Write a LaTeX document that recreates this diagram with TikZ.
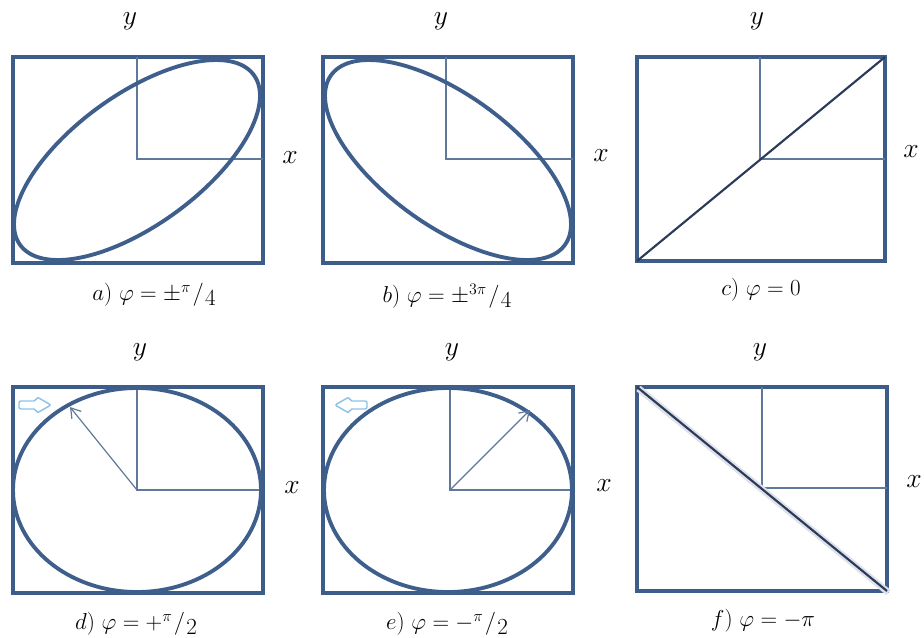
\documentclass[tikz,border=0pt]{standalone}
\usetikzlibrary{arrows.meta}
\definecolor{boxc}{RGB}{60,92,138}
\definecolor{ellc}{RGB}{62,94,140}
\definecolor{axc}{RGB}{95,120,155}
\definecolor{diagc}{RGB}{42,58,88}
\definecolor{glowc}{RGB}{222,224,234}
\definecolor{hintc}{RGB}{140,195,230}
\newcommand{\myfr}[2]{{}^{#1}\mkern1mu/\mkern1mu\raisebox{-3.5pt}{$#2$}}
\begin{document}
\begin{tikzpicture}[x=0.75pt,y=-0.75pt,
  frame/.style={draw=boxc,line width=3.6pt},
  ell/.style={draw=ellc,line width=2.9pt},
  axis/.style={draw=axc,line width=0.9pt},
  diag/.style={draw=diagc,line width=1.6pt},
  glow/.style={draw=glowc,line width=5pt},
  vec/.style={draw=axc,line width=0.9pt,-{Straight Barb[length=7pt,width=9pt]}},
  hint/.style={draw=hintc,line width=1.1pt,rounded corners=1.5pt},
  axlab/.style={font=\fontsize{20}{23}\selectfont},
  captxt/.style={font=\fontsize{16.5}{19}\selectfont}]
\useasboundingbox (0,0) rectangle (924,637);
% ---------- panel a
\coordinate (ca) at (137,159);
\draw[frame] (13,57) rectangle (263,263);
\draw[axis] (137,57) -- (ca) -- (263,159);
\draw[ell] plot[smooth cycle,domain=0:355,samples=72] ({137+123*cos(\x)},{160-100*cos(\x-50)});
\node[axlab] (ya) at (130,21) {$y$};
\node[axlab] (xa) at (290,158) {$x$};
\node[captxt] (la) at (154,295) {$a)\ \varphi=\pm\myfr{\pi}{4}$};
% ---------- panel b
\coordinate (cb) at (446,159);
\draw[frame] (323,57) rectangle (573,263);
\draw[axis] (446,57) -- (cb) -- (573,159);
\draw[ell] plot[smooth cycle,domain=0:355,samples=72] ({448+123*cos(\x)},{160+100*cos(\x-50)});
\node[axlab] (yb) at (441,21) {$y$};
\node[axlab] (xb) at (601,156) {$x$};
\node[captxt] (lb) at (447,296) {$b)\ \varphi=\pm\myfr{3\pi}{4}$};
% ---------- panel c
\coordinate (cc) at (760,159);
\coordinate (c1) at (637,261);
\coordinate (c2) at (885,57);
\draw[frame] (637,57) rectangle (885,261);
\draw[axis] (760,57) -- (cc) -- (885,159);
\draw[diag] (c1) -- (c2);
\node[axlab] (yc) at (757,21) {$y$};
\node[axlab] (xc) at (911,152) {$x$};
\node[captxt] (lc) at (761,290) {$c)\ \varphi=0$};
% ---------- panel d
\coordinate (cd) at (137,490);
\coordinate (td) at (70,407);
\draw[frame] (13,387) rectangle (263,593);
\draw[axis] (137,387) -- (cd) -- (263,490);
\draw[ell] (cd) ellipse [x radius=124,y radius=102];
\draw[vec] (cd) -- (td);
\draw[hint] (19,401) -- (36,401) -- (37,397) -- (51,405) -- (37,413) -- (36,409) -- (19,409) -- cycle;
\node[axlab] (yd) at (140,352) {$y$};
\node[axlab] (xd) at (292,488) {$x$};
\node[captxt] (ld) at (136,624) {$d)\ \varphi=+\myfr{\pi}{2}$};
% ---------- panel e
\coordinate (ce) at (450,490);
\coordinate (te) at (530,410);
\draw[frame] (323,387) rectangle (573,593);
\draw[axis] (450,387) -- (ce) -- (573,490);
\draw[ell] (448,490) ellipse [x radius=124,y radius=102];
\draw[vec] (ce) -- (te);
\draw[hint] (335,405) -- (349,397) -- (350,401) -- (367,401) -- (367,409) -- (350,409) -- (349,413) -- cycle;
\node[axlab] (ye) at (452,352) {$y$};
\node[axlab] (xe) at (604,486) {$x$};
\node[captxt] (le) at (447,624) {$e)\ \varphi=-\myfr{\pi}{2}$};
% ---------- panel f
\coordinate (cf) at (762,488);
\coordinate (f1) at (637,387);
\coordinate (f2) at (887,591);
\draw[frame] (637,387) rectangle (887,591);
\draw[axis] (762,387) -- (cf) -- (887,488);
\draw[glow] ([shift={(1.5,1.5)}]f1) -- ([shift={(1.5,1.5)}]f2);
\draw[diag] (f1) -- (f2);
\node[axlab] (yf) at (760,352) {$y$};
\node[axlab] (xf) at (914,482) {$x$};
\node[captxt] (lf) at (763,621) {$f)\ \varphi=-\pi$};
\end{tikzpicture}
\end{document}
